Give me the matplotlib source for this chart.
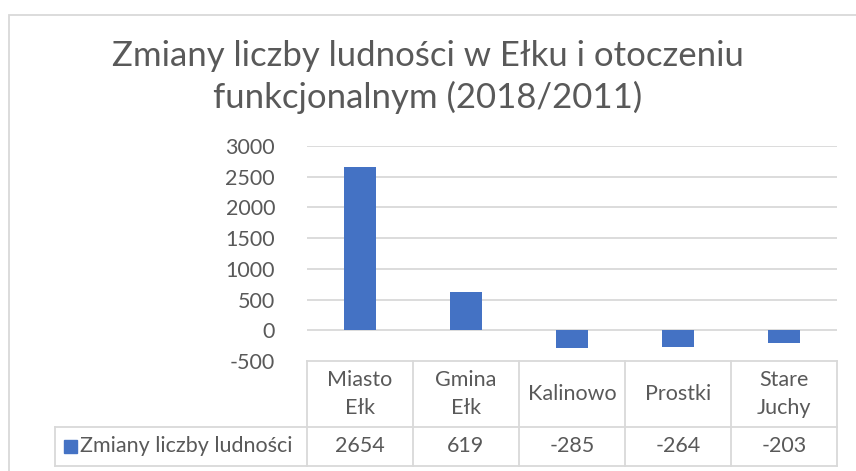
import matplotlib
matplotlib.use("Agg")
import matplotlib.pyplot as plt
from matplotlib.patches import Rectangle
from matplotlib.lines import Line2D

categories = ["Miasto\nEłk", "Gmina\nEłk", "Kalinowo", "Prostki", "Stare\nJuchy"]
values = [2654, 619, -285, -264, -203]
series_name = "Zmiany liczby ludności"
title = "Zmiany liczby ludności w Ełku i otoczeniu\nfunkcjonalnym (2018/2011)"
yticks = [-500, 0, 500, 1000, 1500, 2000, 2500, 3000]

BAR = "#4472C4"
TXT = "#595959"
GRID = "#D9D9D9"
FONT = "Lato"
FS = 15.5

W, H = 856, 471
fig = plt.figure(figsize=(W / 100, H / 100), dpi=100)
plt.rcParams["font.family"] = [FONT, "DejaVu Sans"]

# chart border
fig.add_artist(Rectangle((9 / W, -0.1), 2, (H - 14.5) / H + 0.1, transform=fig.transFigure,
                         fill=False, edgecolor=GRID, lw=1.3))

# plot area
x0, x1, ytop, ybot = 307, 837, 146, 361
ax = fig.add_axes([x0 / W, 1 - ybot / H, (x1 - x0) / W, (ybot - ytop) / H])
n = len(categories)
ax.set_xlim(-0.5, n - 0.5)
ax.set_ylim(yticks[0], yticks[-1])
ax.bar(range(n), values, width=0.31, color=BAR, zorder=3)
ax.set_yticks(yticks)
ax.set_yticklabels([str(t) for t in yticks])
ax.tick_params(axis="y", length=0, pad=23, labelsize=FS, labelcolor=TXT)
ax.tick_params(axis="x", length=0, labelbottom=False)
for s in ax.spines.values():
    s.set_visible(False)
for t in yticks[1:]:
    ax.axhline(t, color=GRID, lw=1.3, zorder=1)

# data table
tr = ax.get_xaxis_transform()
px_per_unit = (x1 - x0) / n
ax_h = ybot - ytop
r1 = -(427 - ybot) / ax_h
r2 = -(466 - ybot) / ax_h
left = -0.5 - (x0 - 55) / px_per_unit
lk = dict(color=GRID, lw=1.3, transform=tr, clip_on=False)
ax.add_line(Line2D([-0.5, n - 0.5], [0, 0], **lk))
ax.add_line(Line2D([left, n - 0.5], [r1, r1], **lk))
ax.add_line(Line2D([left, n - 0.5], [r2, r2], **lk))
for i in range(n + 1):
    ax.add_line(Line2D([i - 0.5, i - 0.5], [0, r2], **lk))
ax.add_line(Line2D([left, left], [r1, r2], **lk))
for i, (c, v) in enumerate(zip(categories, values)):
    ax.text(i, r1 / 2, c, transform=tr, ha="center", va="center", fontsize=FS,
            color=TXT, linespacing=1.45, clip_on=False)
    ax.text(i, (r1 + r2) / 2, str(v), transform=tr, ha="center", va="center",
            fontsize=FS, color=TXT, clip_on=False)
# legend key
key_w = 13 / px_per_unit
kx = -0.5 - (x0 - 64) / px_per_unit
ax.add_patch(Rectangle((kx, (r1 + r2) / 2 - 6.5 / ax_h), key_w, 13 / ax_h, transform=tr,
                       color=BAR, clip_on=False))
ax.text(kx + key_w + 3 / px_per_unit, (r1 + r2) / 2, series_name, transform=tr,
        ha="left", va="center", fontsize=FS, color=TXT, clip_on=False)

fig.text(428 / W, 1 - 77 / H, title, ha="center", va="center", fontsize=25,
         color=TXT, linespacing=1.35)

fig.savefig("out.png", dpi=100)
